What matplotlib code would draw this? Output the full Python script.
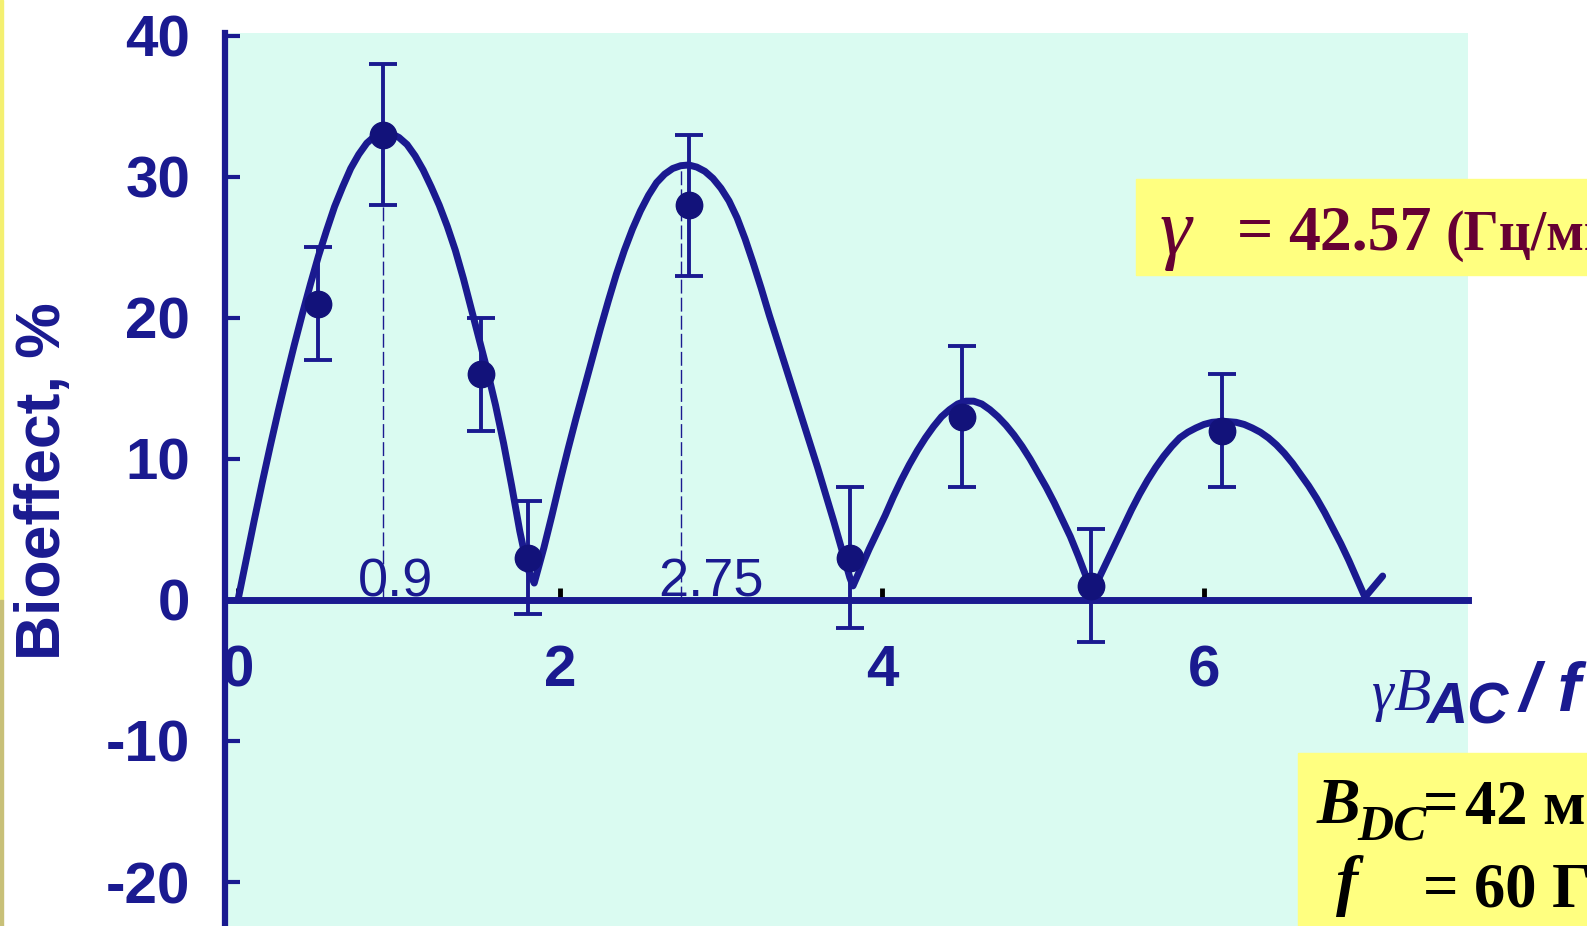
import matplotlib
matplotlib.use("Agg")
import matplotlib.pyplot as plt
from matplotlib.patches import Rectangle

plt.rcParams["axes.unicode_minus"] = False

# ---- data -------------------------------------------------------------
# theoretical curve (bioeffect vs. gamma*B_AC/f), four arches
curve_x = [
    0.00, 0.05, 0.10, 0.15, 0.20, 0.25, 0.30, 0.35, 0.40, 0.45, 0.50, 0.55,
    0.60, 0.65, 0.70, 0.75, 0.80, 0.85, 0.90, 0.95, 1.00, 1.05, 1.10, 1.15,
    1.20, 1.25, 1.30, 1.35, 1.40, 1.45, 1.50, 1.55, 1.60, 1.65, 1.70, 1.75,
    1.80, 1.84,
    1.90, 1.95, 2.00, 2.05, 2.10, 2.15, 2.20, 2.25, 2.30, 2.35, 2.40, 2.45,
    2.50, 2.55, 2.60, 2.65, 2.70, 2.75, 2.80, 2.85, 2.90, 2.95, 3.00, 3.05,
    3.10, 3.15, 3.20, 3.25, 3.30, 3.35, 3.40, 3.45, 3.50, 3.55, 3.60, 3.65,
    3.70, 3.75, 3.80, 3.82,
    3.87, 3.92, 3.97, 4.02, 4.07, 4.12, 4.17, 4.22, 4.27, 4.32, 4.37, 4.42,
    4.47, 4.52, 4.57, 4.62, 4.67, 4.72, 4.77, 4.82, 4.87, 4.92, 4.97, 5.02,
    5.07, 5.12, 5.17, 5.22, 5.27, 5.30,
    5.35, 5.40, 5.45, 5.50, 5.55, 5.60, 5.65, 5.70, 5.75, 5.80, 5.85, 5.90,
    5.95, 6.00, 6.05, 6.10, 6.15, 6.20, 6.25, 6.30, 6.35, 6.40, 6.45, 6.50,
    6.55, 6.60, 6.65, 6.70, 6.75, 6.80, 6.85, 6.90, 6.95, 7.00, 7.11,
]
curve_y = [
    0.0, 2.8, 5.6, 8.3, 10.9, 13.4, 15.8, 18.1, 20.3, 22.4, 24.4, 26.2,
    27.9, 29.3, 30.6, 31.6, 32.4, 32.9, 33.2, 33.1, 32.8, 32.3, 31.5, 30.5,
    29.3, 28.0, 26.5, 24.8, 22.8, 20.6, 18.4, 16.2, 13.8, 11.1, 8.1, 4.9,
    2.2, 1.2,
    3.7, 6.0, 8.4, 10.7, 12.9, 15.0, 17.1, 19.2, 21.2, 23.1, 24.8, 26.3,
    27.6, 28.7, 29.6, 30.2, 30.6, 30.8, 30.85, 30.7, 30.4, 29.9, 29.2, 28.3,
    27.1, 25.6, 23.9, 22.1, 20.2, 18.4, 16.6, 14.8, 13.0, 11.2, 9.4, 7.5,
    5.6, 3.6, 1.6, 1.0,
    2.3, 3.6, 4.8, 6.0, 7.3, 8.5, 9.6, 10.6, 11.5, 12.3, 13.0, 13.5,
    13.9, 14.1, 14.1, 13.9, 13.5, 13.0, 12.4, 11.7, 10.9, 10.0, 9.0, 8.0,
    6.9, 5.7, 4.5, 3.1, 1.6, 0.6,
    1.6, 2.8, 4.0, 5.2, 6.4, 7.5, 8.5, 9.4, 10.2, 10.9, 11.5, 11.9,
    12.2, 12.45, 12.6, 12.65, 12.65, 12.6, 12.45, 12.2, 11.9, 11.5, 11.0, 10.4,
    9.7, 8.9, 8.1, 7.2, 6.2, 5.1, 4.0, 2.8, 1.5, 0.2, 1.7,
]

# measured points with error bars
pts_x = [0.50, 0.90, 1.51, 1.80, 2.80, 3.80, 4.50, 5.30, 6.11]
pts_y = [21, 33, 16, 3, 28, 3, 13, 1, 12]
pts_err = [4, 5, 4, 4, 5, 5, 5, 4, 4]

# marked peak positions
peak_x = [0.9, 2.75]
peak_y = [33.2, 30.85]
peak_labels = ["0.9", "2.75"]
peak_label_x = [0.98, 2.94]

y_ticks = [-20, -10, 0, 10, 20, 30, 40]
x_ticks = [0, 2, 4, 6]

# ---- style ------------------------------------------------------------
navy = "#1a1a90"
mark = "#12127a"
cyan = "#dafbf1"
maroon = "#660033"
yellow = "#ffff80"
sans = "Liberation Sans"
serif = "Liberation Serif"

W, H = 1587, 926
fig = plt.figure(figsize=(W / 100, H / 100), dpi=100, facecolor="white")


def fx(px):
    return px / W


def fy(py):
    return 1 - py / H


# thin border strip on the left edge
fig.patches.append(Rectangle((0, fy(600)), fx(3), fy(0) - fy(600),
                             transform=fig.transFigure, color="#f4f070", zorder=0))
fig.patches.append(Rectangle((0, 0), fx(3), fy(600),
                             transform=fig.transFigure, color="#c8c078", zorder=0))

ax = fig.add_axes([fx(225), 0, fx(1468) - fx(225), fy(33)])
ax.set_facecolor(cyan)
ax.set_xlim(-0.0807, 7.64)
ax.set_ylim(-23.12, 40.21)

for side in ("top", "right"):
    ax.spines[side].set_visible(False)
ax.spines["left"].set_color(navy)
ax.spines["left"].set_linewidth(4.5)
ax.spines["bottom"].set_position(("data", 0))
ax.spines["bottom"].set_color(navy)
ax.spines["bottom"].set_linewidth(5)

ax.set_yticks(y_ticks)
ax.set_xticks(x_ticks)
ax.tick_params(axis="y", direction="in", length=11, width=3, color=navy,
               labelcolor=navy, labelsize=42, pad=25)
ax.tick_params(axis="x", direction="in", length=9, width=3.5, color="black",
               labelcolor=navy, labelsize=42, pad=32)
for lab in ax.get_yticklabels() + ax.get_xticklabels():
    lab.set_fontweight("bold")
    lab.set_fontfamily(sans)

# dashed guides to the peaks
for px_, py_, lx, txt in zip(peak_x, peak_y, peak_label_x, peak_labels):
    ax.plot([px_, px_], [0, py_], color=navy, lw=1.0, ls=(0, (10, 3)), zorder=2)
    ax.text(lx, 0.25, txt, color=navy, fontsize=39, family=sans,
            ha="center", va="baseline", zorder=4)

ax.errorbar(pts_x, pts_y, yerr=pts_err, fmt="none", ecolor=navy,
            elinewidth=2.8, capsize=10, capthick=2.8, zorder=3)
ax.plot(curve_x, curve_y, color=navy, lw=5, solid_joinstyle="round",
        solid_capstyle="round", zorder=4)
ax.plot(pts_x, pts_y, "o", color=mark, ms=19, zorder=5)

# axis titles
fig.text(fx(44), fy(481), "Bioeffect, %", rotation=90, ha="center", va="center",
         color=navy, fontsize=45, fontweight="bold", family=sans)
fig.text(fx(1372), fy(710), "γ", color=navy, fontsize=40, family=serif,
         style="italic", ha="left", va="baseline")
fig.text(fx(1393), fy(710), "B", color=navy, fontsize=44, family=serif,
         style="italic", ha="left", va="baseline")
fig.text(fx(1426), fy(723), "AC", color=navy, fontsize=41, family=sans,
         style="italic", fontweight="bold", ha="left", va="baseline")
fig.text(fx(1520), fy(711), "/ f", color=navy, fontsize=50, family=sans,
         style="italic", fontweight="bold", ha="left", va="baseline")

# parameter boxes
fig.patches.append(Rectangle((fx(1136), fy(275)), 1 - fx(1136), fy(179) - fy(275),
                             transform=fig.transFigure, color=yellow, zorder=1))
fig.text(fx(1160), fy(254), "γ", color=maroon, fontsize=58, family=serif,
         style="italic", ha="left", va="baseline")
fig.text(fx(1237), fy(250), "=", color=maroon, fontsize=46, family=serif,
         fontweight="bold", ha="left", va="baseline")
fig.text(fx(1288), fy(250), "42.57", color=maroon, fontsize=46, family=serif,
         fontweight="bold", ha="left", va="baseline")
fig.text(fx(1445), fy(250), "(Гц/мкТл)", color=maroon, fontsize=40, family=serif,
         fontweight="bold", ha="left", va="baseline")

fig.patches.append(Rectangle((fx(1298), 0), 1 - fx(1298), fy(753),
                             transform=fig.transFigure, color=yellow, zorder=1))
fig.text(fx(1317), fy(823), "B", color="black", fontsize=47, family=serif,
         style="italic", fontweight="bold", ha="left", va="baseline")
fig.text(fx(1357), fy(840), "DC", color="black", fontsize=36, family=serif,
         style="italic", fontweight="bold", ha="left", va="baseline")
fig.text(fx(1423), fy(823), "=", color="black", fontsize=45, family=serif,
         fontweight="bold", ha="left", va="baseline")
fig.text(fx(1465), fy(823), "42 мкТл", color="black", fontsize=45, family=serif,
         fontweight="bold", ha="left", va="baseline")
fig.text(fx(1336), fy(903), "f", color="black", fontsize=48, family=serif,
         style="italic", fontweight="bold", ha="left", va="baseline")
fig.text(fx(1423), fy(907), "=", color="black", fontsize=45, family=serif,
         fontweight="bold", ha="left", va="baseline")
fig.text(fx(1474), fy(907), "60 Гц", color="black", fontsize=45, family=serif,
         fontweight="bold", ha="left", va="baseline")

fig.savefig("out.png", dpi=100, facecolor="white")
